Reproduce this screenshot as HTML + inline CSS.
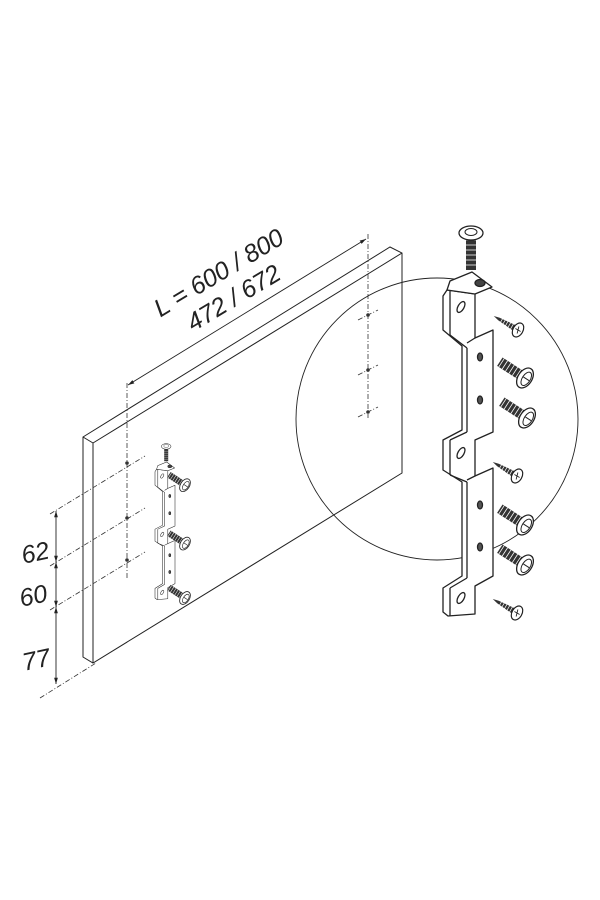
<!DOCTYPE html>
<html><head><meta charset="utf-8"><style>
html,body{margin:0;padding:0;background:#fff;}
svg{display:block}
text{font-family:"Liberation Sans",sans-serif;font-style:italic;fill:#222}
</style></head><body>
<svg width="600" height="900" viewBox="0 0 600 900" xmlns="http://www.w3.org/2000/svg">
<defs>
<marker id="ar" viewBox="0 0 10 10" refX="10" refY="5" markerWidth="7" markerHeight="7" orient="auto-start-reverse"><path d="M0,2 L10,5 L0,8z" fill="#222"/></marker>
<g id="scr">
  <g transform="rotate(30)">
    <path d="M-4,-3 L-22,-1.5 L-28,0 L-22,1.5 L-4,3z" fill="#333"/>
    <path d="M-7,-3.5 L-7,3.5 M-10,-3.5 L-10,3.5 M-13,-3.5 L-13,3.5 M-16,-3 L-16,3 M-19,-2.5 L-19,2.5" stroke="#fff" stroke-width="0.7"/>
    <ellipse cx="0" cy="0" rx="5" ry="7.5" fill="#fff" stroke="#222" stroke-width="1.2"/>
    <path d="M-1,-3.5 L1,3.5 M-3,0 L3,0" stroke="#222" stroke-width="0.9"/>
  </g>
</g>
<g id="bscr">
  <g transform="rotate(33)">
    <rect x="-30" y="-5" width="26" height="10" fill="#333"/>
    <path d="M-8,-5 L-8,5 M-12,-5 L-12,5 M-16,-5 L-16,5 M-20,-5 L-20,5 M-24,-5 L-24,5 M-28,-5 L-28,5" stroke="#fff" stroke-width="0.8"/>
    <ellipse cx="0" cy="0" rx="7" ry="11" fill="#fff" stroke="#222" stroke-width="1.3"/>
    <ellipse cx="1.5" cy="0" rx="4" ry="7.5" fill="none" stroke="#222" stroke-width="1"/>
    <path d="M-2,0 L5,0" stroke="#222" stroke-width="1"/>
  </g>
</g>
<g id="br" fill="#fff" stroke="#222" stroke-width="1.3" stroke-linejoin="round">
  <rect x="466" y="236" width="10" height="34" fill="#333" stroke="none"/>
  <path d="M466,240 h10 M466,245 h10 M466,250 h10 M466,255 h10 M466,260 h10 M466,265 h10" stroke="#fff" stroke-width="0.8"/>
  <ellipse cx="471" cy="233" rx="12" ry="7"/>
  <ellipse cx="471" cy="232" rx="6" ry="3.5" fill="none" stroke-width="1"/>
  <path d="M447,290 L443,296 L443,330 L462,346 L462,430 L443,440 L443,470 L462,482 L462,576 L443,588 L443,612 L448,616 L475,614 L475,586 L493,576 L493,468 L475,476 L475,440 L493,432 L493,330 L475,338 L475,294 Z"/>
  <path d="M450,290 V335 M467,348 V432 M467,482 V578 M450,440 V475 M450,588 V616"/>
  <path d="M450,335 L467,348 M475,338 L467,343 M450,475 L467,482 M475,476 L467,480 M450,440 L467,432 M450,588 L467,578"/>
  <path d="M450,281 L472,272 L492,287 L475,294 L447,290 Z"/>
  <ellipse cx="480" cy="283" rx="5" ry="3.5" fill="#444"/>
  <ellipse cx="461" cy="307" rx="3" ry="6" transform="rotate(30 461 307)" fill="none"/>
  <ellipse cx="461" cy="453" rx="3" ry="6" transform="rotate(30 461 453)" fill="none"/>
  <ellipse cx="461" cy="598" rx="3" ry="6" transform="rotate(30 461 598)" fill="none"/>
  <ellipse cx="480" cy="357" rx="2.5" ry="4" fill="#555"/>
  <ellipse cx="480" cy="400" rx="2.5" ry="4" fill="#555"/>
  <ellipse cx="480" cy="505" rx="2.5" ry="4" fill="#555"/>
  <ellipse cx="480" cy="547" rx="2.5" ry="4" fill="#555"/>
</g>
</defs>

<g fill="none" stroke="#222" stroke-width="1">
  <path d="M83,437 L390,247 L402,253 L402,473 L93,663 L83,657 Z" fill="#fff"/>
  <path d="M93,443 L402,253 M93,443 V663 M83,437 L93,443"/>
</g>

<circle cx="437" cy="419" r="141" fill="none" stroke="#222" stroke-width="0.9"/>

<g stroke="#333" stroke-width="0.8" stroke-dasharray="5,2,1,2" fill="none">
  <path d="M127,383 V578"/>
  <path d="M368,234 V418"/>
  <path d="M50,514 L145,456 M50,566 L145,508 M50,610 L145,552"/>
  <path d="M358,320 L378,310 M358,375 L378,365 M358,417 L378,407"/>
  <path d="M40,698 L96,663"/>
</g>
<g fill="#333">
  <circle cx="127" cy="463" r="1.8"/><circle cx="127" cy="518" r="1.8"/><circle cx="127" cy="560" r="1.8"/>
  <circle cx="368" cy="315" r="1.8"/><circle cx="368" cy="370" r="1.8"/><circle cx="368" cy="412" r="1.8"/>
</g>

<path d="M128,385 L366,239" stroke="#222" stroke-width="0.9" fill="none" marker-start="url(#ar)" marker-end="url(#ar)"/>
<text x="223" y="280" font-size="25" text-anchor="middle" transform="rotate(-31 223 280)">L = 600 / 800</text>
<text x="238" y="305" font-size="25" text-anchor="middle" transform="rotate(-31 238 305)">472 / 672</text>

<g stroke="#222" stroke-width="0.9" fill="none">
  <path d="M56,511 V562" marker-start="url(#ar)" marker-end="url(#ar)"/>
  <path d="M56,562 V607" marker-start="url(#ar)" marker-end="url(#ar)"/>
  <path d="M56,607 V684" marker-start="url(#ar)" marker-end="url(#ar)"/>
</g>
<text x="37" y="561" font-size="25" text-anchor="middle" transform="rotate(-12 37 561)">62</text>
<text x="35" y="604" font-size="25" text-anchor="middle" transform="rotate(-12 35 604)">60</text>
<text x="38" y="668" font-size="25" text-anchor="middle" transform="rotate(-12 38 668)">77</text>

<use href="#br"/>
<use href="#scr" x="518" y="330"/>
<use href="#bscr" x="525" y="378"/>
<use href="#bscr" x="527" y="418"/>
<use href="#scr" x="517" y="476"/>
<use href="#bscr" x="525" y="525"/>
<use href="#bscr" x="525" y="565"/>
<use href="#scr" x="517" y="613"/>

<g transform="translate(-22.2,353.2) scale(0.4)">
  <use href="#br"/>
  <use href="#bscr" x="518" y="330" transform="translate(518,330) scale(1.6) translate(-518,-330)"/>
  <use href="#bscr" x="518" y="476" transform="translate(518,476) scale(1.6) translate(-518,-476)"/>
  <use href="#bscr" x="518" y="612" transform="translate(518,612) scale(1.6) translate(-518,-612)"/>
</g>
</svg>
</body></html>
